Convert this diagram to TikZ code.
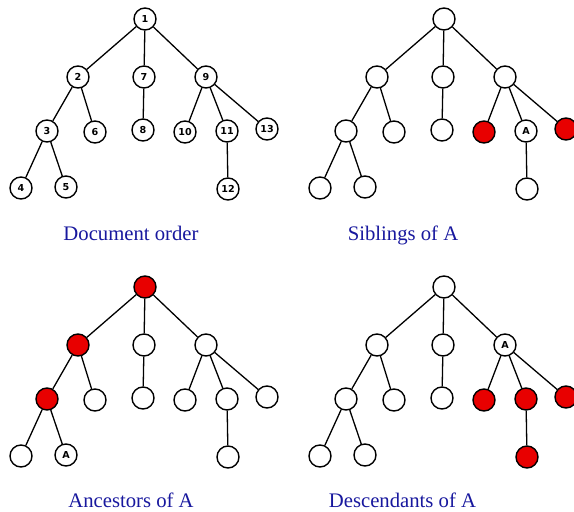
\documentclass[tikz,border=0pt]{standalone}
\usepackage{fontspec}
\setmainfont{Liberation Serif}
\newfontfamily\nodefont{DejaVu Sans}
\definecolor{capblue}{RGB}{24,24,158}
\definecolor{hired}{RGB}{232,0,0}
\tikzset{
  nd/.style={circle, draw=black, line width=1.4pt, minimum size=22pt, inner sep=0pt,
             fill=white, font=\nodefont\bfseries\fontsize{9.6}{9.6}\selectfont, node contents={}},
  hl/.style={fill=hired},
  edge/.style={line width=1.3pt, draw=black},
  caption/.style={font=\fontsize{20.7}{22}\selectfont, text=capblue, anchor=base, inner sep=0pt},
  k1/.style={},k2/.style={},k3/.style={},k4/.style={},k5/.style={},k6/.style={},k7/.style={},
  k8/.style={},k9/.style={},k10/.style={},k11/.style={},k12/.style={},k13/.style={}
}
\newcommand\mytree[3]{%
\begin{scope}[shift={#2}, #3]
\node (#1-1) at (145,19) [nd,k1];
\node (#1-2) at (78,77) [nd,k2];
\node (#1-7) at (144,77) [nd,k7];
\node (#1-9) at (206,77) [nd,k9];
\node (#1-3) at (47,131) [nd,k3];
\node (#1-6) at (95,132) [nd,k6];
\node (#1-8) at (143,130) [nd,k8];
\node (#1-10) at (185,132) [nd,k10];
\node (#1-11) at (227,131) [nd,k11];
\node (#1-13) at (267,129) [nd,k13];
\node (#1-4) at (21,188) [nd,k4];
\node (#1-5) at (66,187) [nd,k5];
\node (#1-12) at (228,189) [nd,k12];
\foreach \p/\c in {1/2,1/7,1/9,2/3,2/6,3/4,3/5,7/8,9/10,9/11,9/13,11/12}
  {\draw[edge] (#1-\p) -- (#1-\c);}
\end{scope}}
\begin{document}
\begin{tikzpicture}[x=1pt,y=-1pt]
\useasboundingbox (0,0) rectangle (574,512);
\mytree{a}{(0,0)}{k1/.style={node contents=1},k2/.style={node contents=2},k3/.style={node contents=3},
  k4/.style={node contents=4},k5/.style={node contents=5},k6/.style={node contents=6},
  k7/.style={node contents=7},k8/.style={node contents=8},k9/.style={node contents=9},
  k10/.style={node contents=10},k11/.style={node contents=11},k12/.style={node contents=12},
  k13/.style={node contents=13}}
\mytree{b}{(299,0)}{k10/.style={hl},k13/.style={hl},k11/.style={node contents=A}}
\mytree{c}{(0,268)}{k1/.style={hl},k2/.style={hl},k3/.style={hl},k5/.style={node contents=A}}
\mytree{d}{(299,268)}{k9/.style={node contents=A},k10/.style={hl},k11/.style={hl},k12/.style={hl},k13/.style={hl}}
\node[caption] (capa) at (131,240.5) {Document order};
\node[caption] (capb) at (403,240.5) {Siblings of A};
\node[caption] (capc) at (131,507) {Ancestors of A};
\node[caption] (capd) at (402.5,507) {Descendants of A};
\end{tikzpicture}
\end{document}
